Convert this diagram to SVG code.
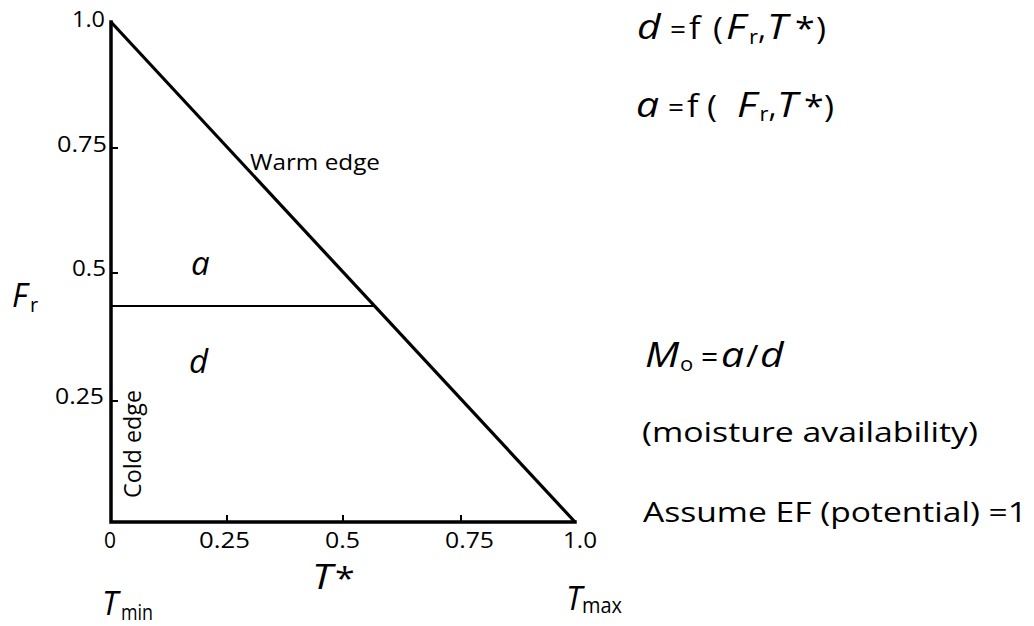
<svg xmlns="http://www.w3.org/2000/svg" width="1034" height="626" viewBox="0 0 1034 626">
<style>
text{font-family:"Open Sans","Liberation Sans",sans-serif;fill:#000}
.tk{font-size:21px}
.lb{font-size:21px}
.it{font-style:italic}
.v{font-style:italic;font-size:34px}
.u{font-size:31px}
.eqs{font-size:28px}
.s{font-size:20px}
.big{font-size:28px}
.ax{stroke:#000;stroke-width:3.5;fill:none;stroke-linecap:square}
.tick{stroke:#000;stroke-width:2}
</style>
<rect width="1034" height="626" fill="#fff"/>
<g id="connectors">
<path class="ax" d="M111,22 L111,522 L575,522"/>
<path d="M111,22 L575,522" stroke="#000" stroke-width="3.2" fill="none"/>
<path d="M111,306 L374,306" stroke="#000" stroke-width="2" fill="none"/>
<path class="tick" d="M111,148 H118 M111,273 H118 M111,401 H118 M227,522 V515 M343,522 V515 M461,522 V515"/>
</g>
<g id="y-ticks">
<text class="tk" x="105" y="27" text-anchor="end" textLength="33" lengthAdjust="spacingAndGlyphs">1.0</text>
<text class="tk" x="107" y="152" text-anchor="end" textLength="50" lengthAdjust="spacingAndGlyphs">0.75</text>
<text class="tk" x="106" y="276" text-anchor="end" textLength="34" lengthAdjust="spacingAndGlyphs">0.5</text>
<text class="tk" x="104" y="404" text-anchor="end" textLength="49" lengthAdjust="spacingAndGlyphs">0.25</text>
</g>
<g id="x-ticks">
<text class="tk" x="104" y="548" textLength="12" lengthAdjust="spacingAndGlyphs">0</text>
<text class="tk" x="199" y="548" textLength="51" lengthAdjust="spacingAndGlyphs">0.25</text>
<text class="tk" x="325" y="548" textLength="35" lengthAdjust="spacingAndGlyphs">0.5</text>
<text class="tk" x="445" y="548" textLength="49" lengthAdjust="spacingAndGlyphs">0.75</text>
<text class="tk" x="563" y="548" textLength="34" lengthAdjust="spacingAndGlyphs">1.0</text>
</g>
<g id="warm-edge">
<text class="lb" x="250" y="170" textLength="130" lengthAdjust="spacingAndGlyphs">Warm edge</text>
</g>
<g id="cold-edge">
<text x="141" y="498" font-size="24" transform="rotate(-90 141 498)" textLength="108" lengthAdjust="spacingAndGlyphs">Cold edge</text>
</g>
<g id="region-a">
<text class="it" x="191" y="275" font-size="33">a</text>
</g>
<g id="region-d">
<text class="it" x="189" y="373" font-size="33">d</text>
</g>
<g id="axis-fr">
<text x="12" y="307" font-size="32"><tspan class="it">F</tspan><tspan font-size="20" x="30" y="312">r</tspan></text>
</g>
<g id="axis-tstar">
<text class="v" transform="translate(312,589) scale(1.2,1)">T</text>
<text class="u" transform="translate(335,589) scale(1.15,1)">*</text>
</g>
<g id="tmin">
<text x="102" y="615" font-size="32"><tspan class="it">T</tspan><tspan font-size="21" x="121" y="620" textLength="32" lengthAdjust="spacingAndGlyphs">min</tspan></text>
</g>
<g id="tmax">
<text x="566" y="610" font-size="32"><tspan class="it">T</tspan><tspan font-size="21" x="582" y="613" textLength="40" lengthAdjust="spacingAndGlyphs">max</tspan></text>
</g>
<g id="eq-d">
<text class="v" transform="translate(637,39) scale(1.2,1)">d</text>
<text class="eqs" transform="translate(670,39)">=</text>
<text class="u" transform="translate(689,39) scale(1.1,1)">f</text>
<text class="u" transform="translate(713,39) scale(1.1,1)">(</text>
<text class="v" transform="translate(726,39) scale(1.2,1)">F</text>
<text class="s" transform="translate(749,44) scale(1.1,1)">r</text>
<text class="u" transform="translate(758,39)">,</text>
<text class="v" transform="translate(767,39) scale(1.2,1)">T</text>
<text class="u" transform="translate(795,39) scale(1.15,1)">*</text>
<text class="u" transform="translate(816,39) scale(1.1,1)">)</text>
</g>
<g id="eq-a">
<text class="v" transform="translate(636,117) scale(1.2,1)">a</text>
<text class="eqs" transform="translate(668,117)">=</text>
<text class="u" transform="translate(687,117) scale(1.1,1)">f</text>
<text class="u" transform="translate(707,117) scale(1.1,1)">(</text>
<text class="v" transform="translate(737,117) scale(1.2,1)">F</text>
<text class="s" transform="translate(759.5,121) scale(1.1,1)">r</text>
<text class="u" transform="translate(768.5,117)">,</text>
<text class="v" transform="translate(777,117) scale(1.2,1)">T</text>
<text class="u" transform="translate(804,117) scale(1.15,1)">*</text>
<text class="u" transform="translate(824,117) scale(1.1,1)">)</text>
</g>
<g id="eq-mo">
<text class="v" transform="translate(645,367) scale(1.2,1)">M</text>
<text class="s" transform="translate(680,371) scale(1.1,1)">o</text>
<text transform="translate(701,367)" style="font-size:30px">=</text>
<text class="v" transform="translate(721,367) scale(1.2,1)">a</text>
<text class="u" transform="translate(746,367) scale(1.1,1)">/</text>
<text class="v" transform="translate(760,367) scale(1.2,1)">d</text>
</g>
<g id="moisture">
<text x="642" y="442" font-size="27" textLength="336" lengthAdjust="spacingAndGlyphs">(moisture availability)</text>
</g>
<g id="assume">
<text class="big" x="643" y="522" textLength="384" lengthAdjust="spacingAndGlyphs">Assume EF (potential) =1</text>
</g>
</svg>
